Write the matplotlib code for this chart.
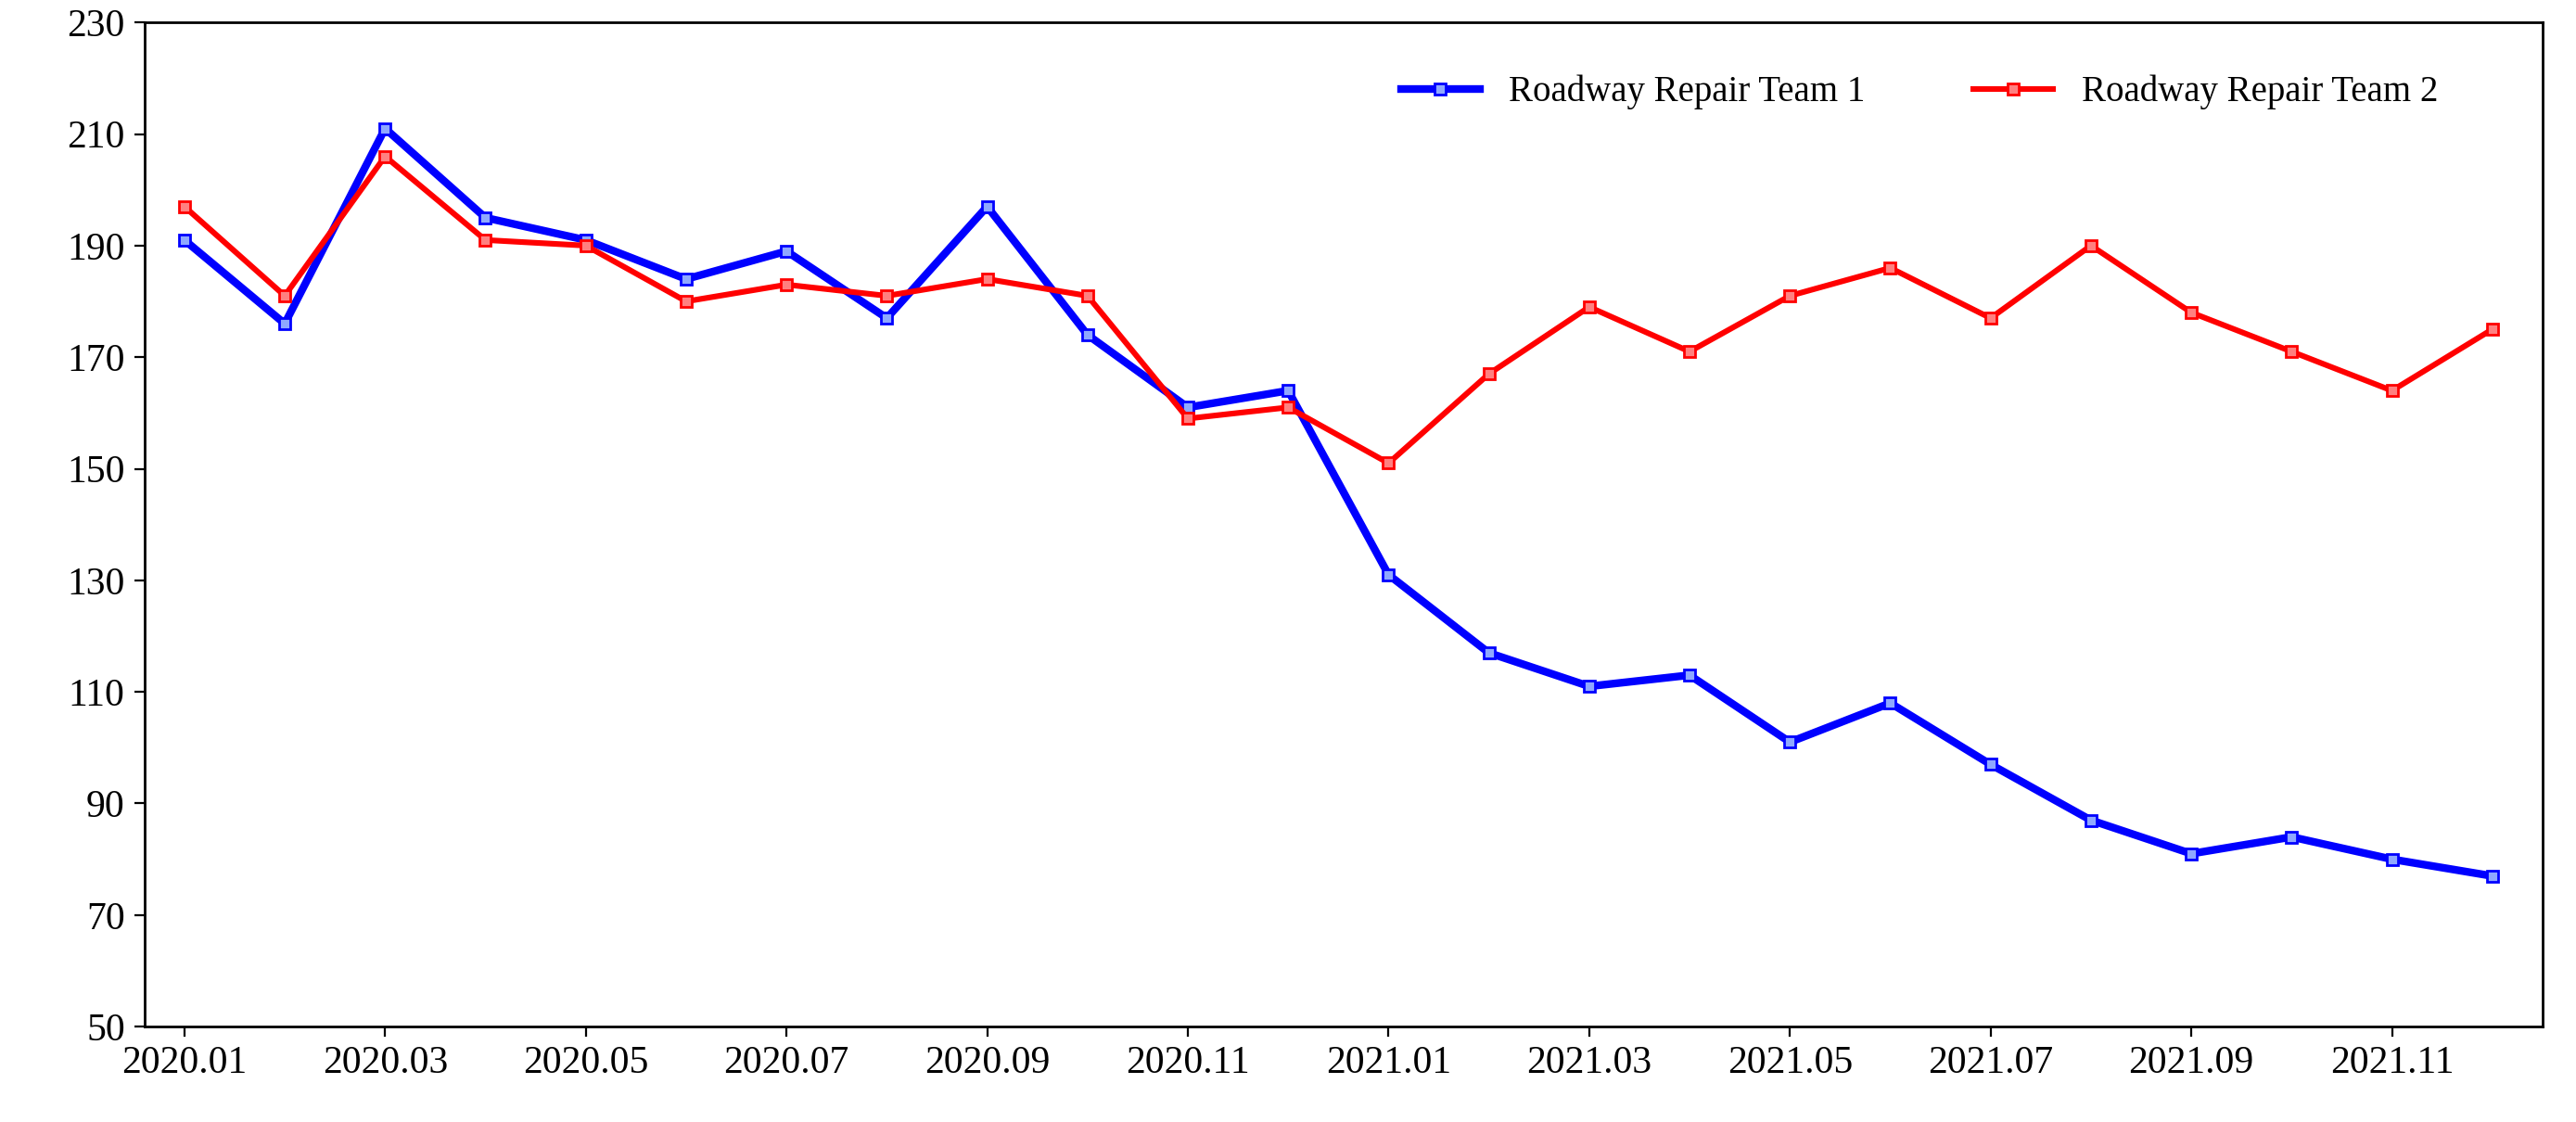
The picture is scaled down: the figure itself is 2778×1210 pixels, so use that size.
import numpy as np
import matplotlib
matplotlib.use("Agg")
import matplotlib.pyplot as plt

plt.rcParams['font.family'] = ['Liberation Serif', 'DejaVu Serif']

months = [f"{y}.{m:02d}" for y in (2020, 2021) for m in range(1, 13)]
team1 = [191, 176, 211, 195, 191, 184, 189, 177, 197, 174, 161, 164,
         131, 117, 111, 113, 101, 108, 97, 87, 81, 84, 80, 77]
team2 = [197, 181, 206, 191, 190, 180, 183, 181, 184, 181, 159, 161,
         151, 167, 179, 171, 181, 186, 177, 190, 178, 171, 164, 175]

fig = plt.figure(figsize=(13.89, 6.05), dpi=200)
ax = fig.add_axes([0.056, 0.085, 0.931, 0.895])
x = np.arange(len(months))
ax.plot(x, team1, color='#0000ff', lw=3, marker='s', ms=4,
        mfc='#8fa8ff', mec='#0000ff', mew=1, label='Roadway Repair Team 1')
ax.plot(x, team2, color='#ff0000', lw=2.2, marker='s', ms=4,
        mfc='#ff8080', mec='#ff0000', mew=1, label='Roadway Repair Team 2')

ax.set_xlim(-0.4, len(months) - 0.5)
ax.set_ylim(50, 230)
ax.set_yticks(range(50, 231, 20))
ax.set_xticks(x[::2])
ax.set_xticklabels(months[::2])
ax.tick_params(labelsize=15, direction='out', length=4)
for s in ax.spines.values():
    s.set_linewidth(1)
ax.legend(loc='upper right', ncol=2, frameon=False, fontsize=14,
          bbox_to_anchor=(0.97, 0.98), columnspacing=3, handlelength=2.2)

fig.savefig("out.png", dpi=200)
